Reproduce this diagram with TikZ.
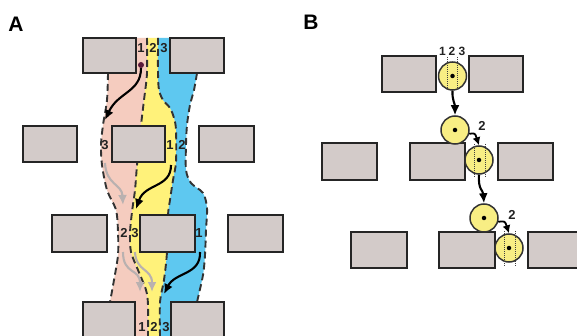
\documentclass[tikz,border=0pt]{standalone}
\usepackage{fontspec}
\setmainfont{Liberation Sans}
\usetikzlibrary{arrows.meta,calc}
\definecolor{pinkS}{HTML}{F5CCBF}
\definecolor{yellowS}{HTML}{FFF27A}
\definecolor{blueS}{HTML}{5EC8F0}
\definecolor{boxfill}{HTML}{D3CBC9}
\definecolor{boxline}{HTML}{252525}
\definecolor{circfill}{HTML}{F8EE84}
\definecolor{dashc}{HTML}{333333}
\definecolor{grayarr}{HTML}{B9B1B0}
\definecolor{dotc}{HTML}{5A1A3A}
\definecolor{txt}{HTML}{222222}
\begin{document}
\begin{tikzpicture}[x=1pt,y=-1pt,
  box/.style={draw=boxline,fill=boxfill,line width=2pt,minimum width=#1,minimum height=36pt,inner sep=0pt},
  box/.default=54pt,
  bnd/.style={draw=dashc,line width=1.9pt,dash pattern=on 7pt off 4pt},
  num/.style={text=txt,font=\fontsize{13}{13}\selectfont\bfseries,inner sep=0pt},
  numb/.style={text=txt,font=\fontsize{12}{12}\selectfont\bfseries,inner sep=0pt},
  panel/.style={text=black,font=\fontsize{21}{21}\selectfont\bfseries,inner sep=0pt},
  blk/.style={draw=black,line width=2.1pt,-{Latex[length=10pt,width=9pt]}},
  blks/.style={draw=black,line width=1.8pt,-{Latex[length=8pt,width=8pt]}},
  gry/.style={draw=grayarr,line width=2.1pt,-{Latex[length=10pt,width=9pt]}},
  circ/.style={circle,draw=dashc,fill=circfill,line width=1.5pt,minimum size=28pt,inner sep=0pt},
  cdot/.style={circle,fill=black,minimum size=4.5pt,inner sep=0pt},
  dots/.style={draw=black!75,line width=0.9pt,dash pattern=on 1pt off 1pt}]
\clip (0,0) rectangle (577,336);
\fill[white] (0,0) rectangle (577,336);

% ---------- Panel A streams ----------
\fill[pinkS] (125,38) -- (108,73) -- plot[smooth] coordinates {(108,73) (107,100) (103,125) (101,145) (102,165) (107,190) (116,210) (118,232) (118,255) (114,280) (110,302)}
  -- (120,336) -- plot[smooth] coordinates {(148,336) (148,305) (146,290) (138,270) (131,252) (130,233) (132,212) (135,190) (137,165) (139,145) (141,125) (144,100) (147,73) (147,38)} -- cycle;
\fill[yellowS] plot[smooth] coordinates {(147,38) (147,73) (144,100) (141,125) (139,145) (137,165) (135,190) (132,212) (130,233) (131,252) (138,270) (146,290) (148,305) (148,336)}
  -- plot[smooth] coordinates {(160,336) (160,302) (164,280) (167,252) (168,215) (170,200) (173,180) (176,162) (176,130) (174,118) (170,108) (163,100) (159,90) (158,73) (158,38)} -- cycle;
\fill[blueS] plot[smooth] coordinates {(158,38) (158,73) (159,90) (163,100) (170,108) (174,118) (176,130) (176,162) (173,180) (170,200) (168,215) (167,252) (164,280) (160,302) (160,336)}
  -- (185,336) -- plot[smooth] coordinates {(197,302) (203,275) (205,255) (206,230) (207,208) (203,193) (191,183) (186,170) (186,145) (187,125) (190,105) (194,90) (197,73)} -- (185,38) -- cycle;

\draw[bnd] plot[smooth] coordinates {(108,73) (107,100) (103,125) (101,145) (102,165) (107,190) (116,210) (118,232) (118,255) (114,280) (110,302)};
\draw[bnd] plot[smooth] coordinates {(147,38) (147,73) (144,100) (141,125) (139,145) (137,165) (135,190) (132,212) (130,233) (131,252) (138,270) (146,290) (148,305) (148,336)};
\draw[bnd] plot[smooth] coordinates {(158,38) (158,73) (159,90) (163,100) (170,108) (174,118) (176,130) (176,162) (173,180) (170,200) (168,215) (167,252) (164,280) (160,302) (160,336)};
\draw[bnd] plot[smooth] coordinates {(197,73) (194,90) (190,105) (187,125) (186,145) (186,170) (191,183) (203,193) (207,208) (206,230) (205,255) (203,275) (197,302)};

% ---------- Panel A boxes ----------
\node[box=53pt,minimum height=35pt] (a1) at (109.5,55.5) {};
\node[box=54pt,minimum height=35pt] (a2) at (197,55.5) {};
\node[box=54pt] (a3) at (50,144) {};
\node[box=53pt] (a4) at (138.5,144) {};
\node[box=55pt] (a5) at (226.5,144) {};
\node[box=55pt,minimum height=37pt] (a6) at (79.5,233.5) {};
\node[box=55pt,minimum height=37pt] (a7) at (167.5,233.5) {};
\node[box=55pt,minimum height=37pt] (a8) at (255.5,233.5) {};
\node[box=52pt] (a9) at (109,320) {};
\node[box=53pt] (a10) at (197.5,320) {};

% ---------- Panel A labels ----------
\node[panel] (lA) at (16,24) {A};
\node[num] (t1) at (141,48) {1};
\node[num] (t2) at (153,48) {2};
\node[num] (t3) at (164,48) {3};
\node[num] (m3) at (105,145) {3};
\node[num] (m1) at (170,145) {1};
\node[num] (m2) at (182,145) {2};
\node[num] (r2) at (124,233) {2};
\node[num] (r3) at (135,233) {3};
\node[num] (r1) at (199,233) {1};
\node[num] (s1) at (142,327) {1};
\node[num] (s2) at (154,327) {2};
\node[num] (s3) at (166,327) {3};

% ---------- Panel A arrows ----------
\node[circle,fill=dotc,minimum size=6pt,inner sep=0pt] (pd) at (141,65) {};
\coordinate (e1) at (105,120);
\draw[blk] (pd.south) .. controls (141,92) and (118,92) .. (e1);
\coordinate (g3s) at (105,163);
\coordinate (g3e) at (123,205);
\draw[gry] (g3s) .. controls (106,185) and (122,184) .. (g3e);
\coordinate (k2s) at (171,165);
\coordinate (k2e) at (136,209);
\draw[blk] (k2s) .. controls (171,188) and (145,183) .. (k2e);
\coordinate (g6s) at (123,252);
\coordinate (g6e) at (140,292);
\draw[gry] (g6s) .. controls (123,275) and (140,268) .. (g6e);
\coordinate (g5s) at (135,252);
\coordinate (g5e) at (152,292);
\draw[gry] (g5s) .. controls (136,272) and (152,268) .. (g5e);
\coordinate (k4s) at (200,252);
\coordinate (k4e) at (164,294);
\draw[blk] (k4s) .. controls (201,275) and (175,272) .. (k4e);

% ---------- Panel B ----------
\node[panel] (lB) at (311,22) {B};
\node[box=54pt] (b1) at (409,74) {};
\node[box=54pt] (b2) at (496,74) {};
\node[box=55pt,minimum height=37pt] (b3) at (349.5,161.5) {};
\node[box=55pt,minimum height=37pt] (b4) at (437.5,161.5) {};
\node[box=55pt,minimum height=37pt] (b5) at (525.5,161.5) {};
\node[box=56pt] (b6) at (379,250) {};
\node[box=56pt] (b7) at (467,250) {};
\node[box=56pt] (b8) at (556,250) {};

\node[circ] (c1) at (452.5,76) {};
\node[circ] (c2) at (455,130) {};
\node[circ] (c3) at (479,160) {};
\node[circ] (c4) at (484,218) {};
\node[circ] (c5) at (509,248) {};

\draw[dots] (447.5,57) -- (447.5,88);
\draw[dots] (457.5,57) -- (457.5,88);
\draw[dots] (474,144) -- (474,178);
\draw[dots] (485,144) -- (485,178);
\draw[dots] (504,231) -- (504,266);
\draw[dots] (515,231) -- (515,266);

\foreach \c in {c1,c2,c3,c4,c5} \node[cdot] at (\c) {};

\node[numb] (n1) at (442.5,51) {1};
\node[numb] (n2) at (452,51) {2};
\node[numb] (n3) at (462,51) {3};
\node[num] (q1) at (482,126) {2};
\node[num] (q2) at (512,215) {2};

\draw[blk] (c1.south) .. controls (452,100) and (455,104) .. (c2.north);
\draw[blks] (c2.-15) .. controls (475,133) .. (c3.north);
\draw[blk] (c3.south) .. controls (478,190) and (483,190) .. (c4.north);
\draw[blks] (c4.-15) .. controls (505,221) .. (c5.north);
\end{tikzpicture}
\end{document}
